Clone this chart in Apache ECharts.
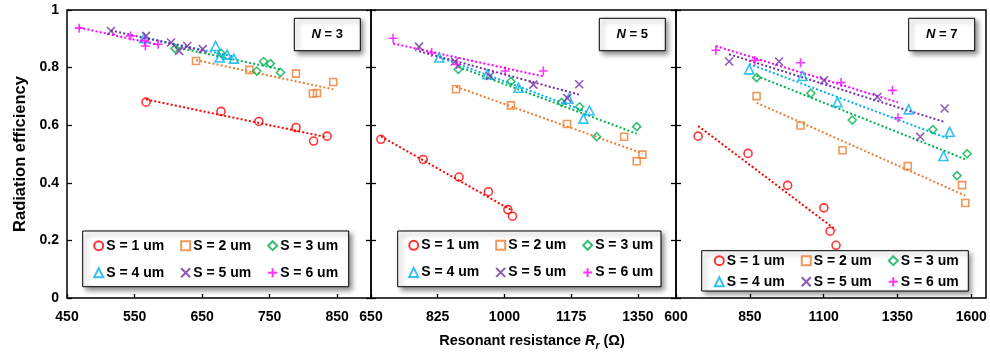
<!DOCTYPE html>
<html><head><meta charset="utf-8">
<script src="https://cdn.jsdelivr.net/npm/echarts@6/dist/echarts.min.js"></script>
<style>html,body{margin:0;padding:0;background:#fff}#c{width:990px;height:353px}</style>
</head><body><div id="c"></div>
<script>
// ---------- DATA ----------
const seriesNames = ['S = 1 um', 'S = 2 um', 'S = 3 um', 'S = 4 um', 'S = 5 um', 'S = 6 um'];
const panelLabels = ['3', '5', '7'];
const n3_xTicks = [450, 550, 650, 750, 850];
const n5_xTicks = [650, 825, 1000, 1175, 1350];
const n7_xTicks = [600, 850, 1100, 1350, 1600];
const yTickInterval = 0.2;

// N = 3
const n3_S1 = [[567,0.680],[678,0.648],[734,0.613],[789,0.592],[815,0.545],[835,0.562]];
const n3_S2 = [[641,0.823],[720,0.792],[789,0.779],[814,0.710],[820,0.712],[844,0.750]];
const n3_S3 = [[610,0.866],[678,0.850],[731,0.788],[741,0.821],[751,0.814],[766,0.783]];
const n3_S4 = [[564,0.902],[670,0.875],[676,0.835],[687,0.845],[697,0.831]];
const n3_S5 = [[515,0.927],[567,0.910],[604,0.887],[616,0.858],[628,0.875],[651,0.864]];
const n3_S6 = [[468,0.937],[544,0.910],[565,0.893],[566,0.875],[585,0.881]];
// N = 5
const n5_S1 = [[676,0.551],[787,0.481],[881,0.420],[958,0.369],[1009,0.307],[1021,0.284]];
const n5_S2 = [[873,0.725],[1017,0.669],[1164,0.604],[1314,0.560],[1362,0.498],[1347,0.475]];
const n5_S3 = [[879,0.794],[1017,0.752],[1150,0.679],[1197,0.664],[1242,0.560],[1347,0.595]];
const n5_S4 = [[829,0.835],[955,0.777],[1037,0.730],[1168,0.692],[1223,0.651],[1207,0.623]];
const n5_S5 = [[776,0.873],[870,0.821],[962,0.771],[1076,0.741],[1165,0.694],[1196,0.742]];
const n5_S6 = [[708,0.902],[809,0.852],[875,0.811],[1002,0.788],[1102,0.788]];
// N = 7
const n7_S1 = [[675,0.562],[844,0.502],[978,0.391],[1101,0.313],[1122,0.232],[1142,0.183]];
const n7_S2 = [[873,0.701],[1022,0.599],[1164,0.513],[1385,0.458],[1569,0.392],[1580,0.330]];
const n7_S3 = [[873,0.765],[1057,0.711],[1197,0.618],[1470,0.585],[1586,0.501],[1552,0.425]];
const n7_S4 = [[848,0.794],[1029,0.771],[1147,0.680],[1388,0.655],[1527,0.577],[1506,0.493]];
const n7_S5 = [[780,0.821],[949,0.821],[1101,0.756],[1282,0.698],[1427,0.560],[1510,0.658]];
const n7_S6 = [[735,0.860],[867,0.825],[1022,0.817],[1159,0.748],[1333,0.721],[1352,0.626]];

// ---------- STYLE ----------
const FONT = 'Liberation Sans, Arial, sans-serif';
const colors = ['#FF0000', '#ED7D31', '#00B050', '#00B0F0', '#7030A0', '#FF00FF'];
const symbols = ['circle', 'rect', 'diamond', 'triangle',
  'path://M0,0L8,8M8,0L0,8', 'path://M4,0L4,8M0,4L8,4'];
const symSizes = [8, 7, 8, 9, 8, 9];

const panels = [
  [n3_S1, n3_S2, n3_S3, n3_S4, n3_S5, n3_S6],
  [n5_S1, n5_S2, n5_S3, n5_S4, n5_S5, n5_S6],
  [n7_S1, n7_S2, n7_S3, n7_S4, n7_S5, n7_S6]
];
const xTicks = [n3_xTicks, n5_xTicks, n7_xTicks];
const xRanges = [[450, 900], [650, 1450], [600, 1650]];
const grids = [
  { left: 67, top: 10, width: 304, height: 288 },
  { left: 371, top: 10, width: 305, height: 288 },
  { left: 676, top: 10, width: 310, height: 288 }
];

// linear least-squares trendline over the data range (like Excel's linear trendline)
function trend(pts) {
  const n = pts.length;
  let sx = 0, sy = 0, sxx = 0, sxy = 0, mn = Infinity, mx = -Infinity;
  pts.forEach(([x, y]) => { sx += x; sy += y; sxx += x * x; sxy += x * y; mn = Math.min(mn, x); mx = Math.max(mx, x); });
  const b = (n * sxy - sx * sy) / (n * sxx - sx * sx);
  const a = (sy - b * sx) / n;
  return [[mn, a + b * mn], [mx, a + b * mx]];
}

const tickStyle = { color: '#000', width: 1.3 };

const gridOpt = grids.map(g => Object.assign({}, g, {
  show: true, borderColor: '#000', borderWidth: 1.5, backgroundColor: 'transparent'
}));

const xAxisOpt = grids.map((g, i) => ({
  type: 'value', gridIndex: i, min: xRanges[i][0], max: xRanges[i][1],
  axisLine: { show: false }, splitLine: { show: false },
  axisTick: { show: true, inside: true, length: 4, lineStyle: tickStyle, customValues: xTicks[i] },
  axisLabel: { customValues: xTicks[i], formatter: v => String(v), fontSize: 14, fontWeight: 'bold',
    color: '#000', margin: 12, fontFamily: FONT }
}));

const yAxisOpt = [];
const leftY = [];
grids.forEach((g, i) => {
  leftY.push(yAxisOpt.length);
  yAxisOpt.push({
    type: 'value', gridIndex: i, position: 'left', min: 0, max: 1, interval: yTickInterval,
    axisLine: { show: false }, splitLine: { show: false },
    axisTick: { show: true, inside: true, length: 5, lineStyle: tickStyle },
    axisLabel: { show: i === 0, fontSize: 14, fontWeight: 'bold', color: '#000', margin: 8, fontFamily: FONT },
    name: i === 0 ? 'Radiation efficiency' : '', nameLocation: 'middle', nameGap: 38,
    nameTextStyle: { fontSize: 16.5, fontWeight: 'bold', color: '#000', fontFamily: FONT }
  });
  if (i < 2) {
    yAxisOpt.push({
      type: 'value', gridIndex: i, position: 'right', min: 0, max: 1, interval: yTickInterval,
      axisLine: { show: false }, splitLine: { show: false },
      axisTick: { show: true, inside: true, length: 5, lineStyle: tickStyle },
      axisLabel: { show: false }
    });
  }
});

const series = [];
panels.forEach((sets, p) => {
  sets.forEach((pts, s) => {
    series.push({
      name: 'fit' + p + s, type: 'line', xAxisIndex: p, yAxisIndex: leftY[p],
      data: trend(pts), symbol: 'none', silent: true, z: 2,
      lineStyle: { color: colors[s], width: 2, type: [2, 2.2] }
    });
  });
  sets.forEach((pts, s) => {
    series.push({
      name: seriesNames[s], type: 'scatter', xAxisIndex: p, yAxisIndex: leftY[p],
      data: pts, symbol: symbols[s], symbolSize: symSizes[s], z: 3,
      itemStyle: { color: 'rgba(255,255,255,0)', borderColor: colors[s], borderWidth: 1.6 }
    });
  });
});

// legends: one per row per panel
const legendBoxes = [
  { x: 82.7, y: 231, w: 266, h: 55.7, iconLeft: 93.2, rowCenters: [245.7, 272.7] },
  { x: 397.7, y: 231, w: 263.3, h: 55.7, iconLeft: 408.2, rowCenters: [245.3, 272.4] },
  { x: 701.7, y: 250.7, w: 266.6, h: 40.3, iconLeft: 713.8, rowCenters: [260.7, 281.7] }
];
const legends = [];
legendBoxes.forEach(b => {
  [0, 1].forEach(r => {
    legends.push({
      left: b.iconLeft, top: b.rowCenters[r] - 8, orient: 'horizontal', padding: 0,
      itemGap: 16, itemWidth: 9, itemHeight: 9, selectedMode: false, z: 6,
      data: seriesNames.slice(r * 3, r * 3 + 3),
      textStyle: { fontSize: 14, fontWeight: 'bold', color: '#000', fontFamily: FONT, lineHeight: 16, padding: [0, 0, 0, -2] }
    });
  });
});

const nBoxes = [
  { x: 294.3, y: 18.3 }, { x: 599.3, y: 18.3 }, { x: 908.7, y: 18.3 }
];
const graphics = [];
legendBoxes.forEach(b => {
  graphics.push({
    type: 'rect', z: 5, shape: { x: b.x, y: b.y, width: b.w, height: b.h },
    style: { fill: '#fff', stroke: '#000', lineWidth: 1, shadowBlur: 5, shadowOffsetX: 3, shadowOffsetY: 3, shadowColor: 'rgba(0,0,0,0.45)' }
  });
});
nBoxes.forEach((b, i) => {
  graphics.push({
    type: 'rect', z: 5, shape: { x: b.x, y: b.y, width: 66, height: 32.4 },
    style: { fill: '#fff', stroke: '#000', lineWidth: 1, shadowBlur: 5, shadowOffsetX: 3, shadowOffsetY: 3, shadowColor: 'rgba(0,0,0,0.45)' }
  });
  graphics.push({
    type: 'text', z: 6, x: b.x + 33, y: b.y + 16.2,
    style: {
      text: '{i|N} = ' + panelLabels[i], align: 'center', verticalAlign: 'middle',
      fontSize: 13, fontWeight: 'bold', fontFamily: FONT, fill: '#000',
      rich: { i: { fontStyle: 'italic', fontWeight: 'bold', fontSize: 13, fontFamily: FONT, fill: '#000' } }
    }
  });
});
graphics.push({
  type: 'text', z: 6, x: 532, y: 341,
  style: {
    text: 'Resonant resistance {i|R}{s|r} (Ω)', align: 'center', verticalAlign: 'middle',
    fontSize: 14.5, fontWeight: 'bold', fontFamily: FONT, fill: '#000', lineHeight: 20,
    rich: {
      i: { fontStyle: 'italic', fontWeight: 'bold', fontSize: 14.5, fontFamily: FONT, fill: '#000', lineHeight: 20 },
      s: { fontStyle: 'italic', fontWeight: 'bold', fontSize: 10, fontFamily: FONT, fill: '#000', lineHeight: 10, verticalAlign: 'bottom' }
    }
  }
});

const chart = echarts.init(document.getElementById('c'), null, { renderer: 'canvas' });
chart.setOption({
  animation: false,
  backgroundColor: '#fff',
  textStyle: { fontFamily: FONT },
  grid: gridOpt,
  xAxis: xAxisOpt,
  yAxis: yAxisOpt,
  legend: legends,
  graphic: graphics,
  series: series
});
</script>
</body></html>
